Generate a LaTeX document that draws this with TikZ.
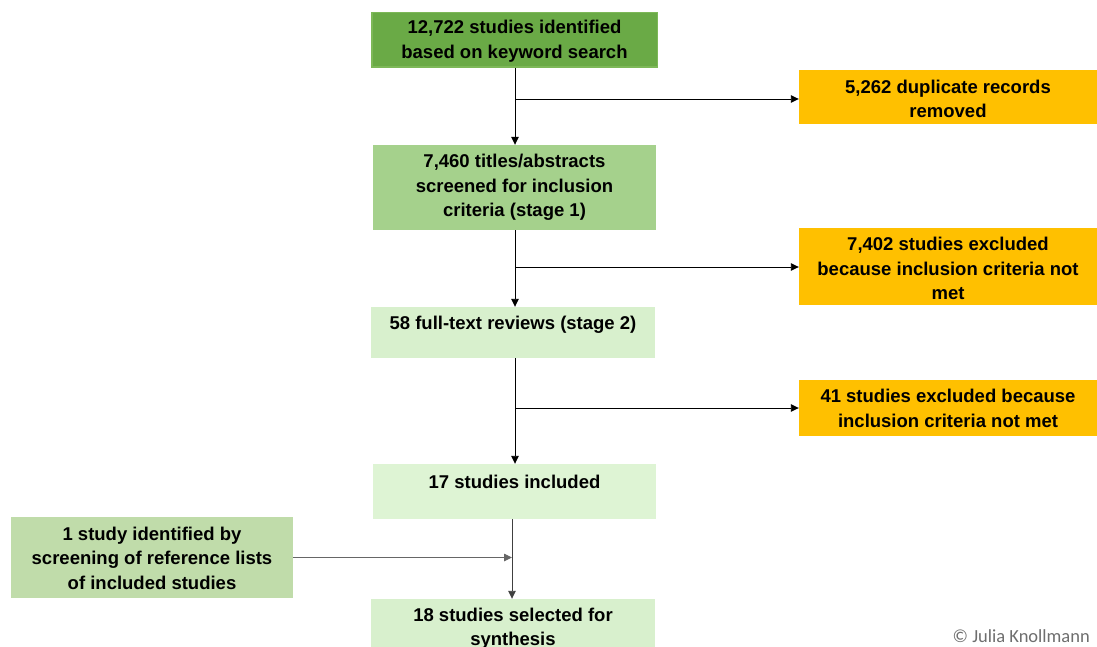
\documentclass[tikz,border=0pt]{standalone}
\usepackage{fontspec}
\setmainfont{Liberation Sans}
\newfontfamily\copyfont{Carlito}
\usetikzlibrary{arrows.meta}
\definecolor{gA}{RGB}{106,170,70}
\definecolor{gAb}{RGB}{125,184,88}
\definecolor{gB}{RGB}{165,209,140}
\definecolor{gC}{RGB}{216,240,205}
\definecolor{gD}{RGB}{222,244,212}
\definecolor{gE}{RGB}{192,220,170}
\definecolor{orng}{RGB}{255,192,0}
\definecolor{copygray}{RGB}{110,110,110}
\tikzset{
  box/.style={draw=none, rectangle, inner sep=0pt},
  txt/.style={align=center, inner sep=0pt, font=\fontsize{18.5}{24.5}\selectfont\bfseries},
  arr/.style={draw=black, line width=0.9pt, -{Triangle[length=8pt,width=7.5pt]}},
}
\begin{document}
\begin{tikzpicture}[x=1pt,y=-1pt]
\useasboundingbox (0,0) rectangle (1097,647);
\clip (0,0) rectangle (1097,647);
\fill[white] (0,0) rectangle (1097,647);
% boxes
\node[box, fill=gA, draw=gAb, line width=1.5pt, minimum width=285.5, minimum height=54.5] (A) at (514.5,40) {};
\node[box, fill=gB, minimum width=283, minimum height=85] (B) at (514.5,187.5) {};
\node[box, fill=gC, minimum width=284, minimum height=51] (C) at (513,332.5) {};
\node[box, fill=gD, minimum width=283, minimum height=55] (D) at (514.5,491.5) {};
\node[box, fill=gE, minimum width=282, minimum height=81] (E) at (152,557.5) {};
\node[box, fill=gC, minimum width=284, minimum height=52] (F) at (513,625) {};
\node[box, fill=orng, minimum width=298, minimum height=54] (O1) at (948,97) {};
\node[box, fill=orng, minimum width=298, minimum height=77] (O2) at (948,266.5) {};
\node[box, fill=orng, minimum width=298, minimum height=56] (O3) at (948,408) {};
% texts
\node[txt] (tA) at (514.5,41) {12,722 studies identified\\based on keyword search};
\node[txt] (tB) at (514.5,187.5) {7,460 titles/abstracts\\screened for inclusion\\criteria (stage 1)};
\node[txt] (tC) at (513,324.5) {58 full-text reviews (stage 2)};
\node[txt] (tD) at (514.5,481.5) {17 studies included};
\node[txt] (tE) at (152,558) {1 study identified by\\screening of reference lists\\of included studies};
\node[txt] (tF) at (513,628.5) {18 studies selected for\\synthesis};
\node[txt] (tO1) at (948,99) {5,262 duplicate records\\removed};
\node[txt] (tO2) at (948,268.5) {7,402 studies excluded\\because inclusion criteria not\\met};
\node[txt] (tO3) at (948,408.5) {41 studies excluded because\\inclusion criteria not met};
\node[anchor=east, inner sep=0pt, text=copygray, font=\copyfont\fontsize{18.5}{20}\selectfont] (copy) at (1090,636) {\textcopyright{} Julia Knollmann};
% connectors
\coordinate (a1) at (515,68);
\coordinate (a2) at (515,99);
\draw[arr] (a1) -- (a1 |- B.north);
\draw[arr] (a2) -- (O1.west |- a2);
\coordinate (b1) at (515,230);
\coordinate (b2) at (515,267);
\draw[arr] (b1) -- (b1 |- C.north);
\draw[arr] (b2) -- (O2.west |- b2);
\coordinate (c1) at (515,358);
\coordinate (c2) at (515,408);
\draw[arr] (c1) -- (c1 |- D.north);
\draw[arr] (c2) -- (O3.west |- c2);
\coordinate (d1) at (512,519);
\coordinate (d2) at (512,557.5);
\draw[arr, draw=black!75] (d1) -- (d1 |- F.north);
\draw[arr, draw=black!60] (E.east) -- (d2);
\end{tikzpicture}
\end{document}
